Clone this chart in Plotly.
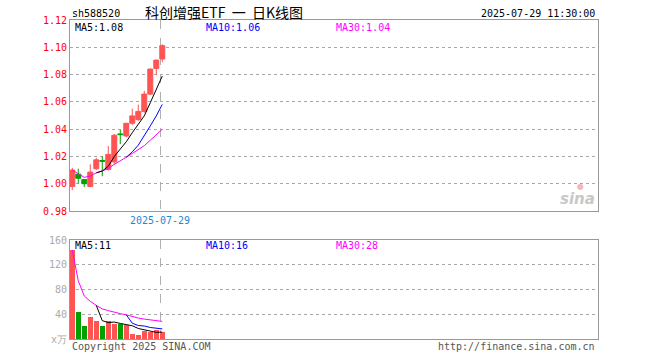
import plotly.graph_objects as go
from plotly.subplots import make_subplots

# ---- data ----
opens  = [0.998, 1.007, 1.003, 0.998, 1.011, 1.017, 1.0105, 1.016, 1.0365, 1.035, 1.0443, 1.047, 1.053, 1.0657, 1.0845, 1.0914]
closes = [1.010, 1.004, 1.000, 1.0085, 1.0175, 1.0165, 1.0215, 1.0355, 1.036, 1.0443, 1.0497, 1.053, 1.0657, 1.084, 1.0906, 1.1012]
highs  = [1.0117, 1.011, 1.003, 1.0142, 1.019, 1.020, 1.0276, 1.0365, 1.0395, 1.0445, 1.0550, 1.0580, 1.0681, 1.0845, 1.0910, 1.1022]
lows   = [0.9953, 1.0002, 0.9975, 0.9975, 1.010, 1.0055, 1.0095, 1.014, 1.029, 1.034, 1.043, 1.046, 1.052, 1.065, 1.0796, 1.0890]
volumes = [144, 44, 20.4, 34.9, 28.4, 20.4, 29, 24, 24, 22, 8.1, 6.9, 12.3, 11.3, 15, 10.7]  # 万

price_ticks = [0.98, 1.00, 1.02, 1.04, 1.06, 1.08, 1.10, 1.12]
vol_ticks = [0, 40, 80, 120, 160]
vol_tick_text = ["x万", "40", "80", "120", "160"]
date_label = "2025-07-29"
code = "sh588520"
title = "科创增强ETF\u00a0 一\u00a0 日K线图"
timestamp = "2025-07-29 11:30:00"

RED = "#ff5454"
GREEN = "#00a000"
MONO = "DejaVu Sans Mono"

n = len(closes)
xs = list(range(n))


def ma(vals, w, expanding=False):
    out = []
    for i in range(len(vals)):
        if i + 1 < w and not expanding:
            out.append(None)
        else:
            seg = vals[max(0, i - w + 1): i + 1]
            out.append(sum(seg) / len(seg))
    return out


ma5, ma10, ma30 = ma(closes, 5), ma(closes, 10), ma(closes, 30, expanding=True)
vma5, vma10, vma30 = ma(volumes, 5), ma(volumes, 10), ma(volumes, 30, expanding=True)
vol_colors = [RED if c >= o else GREEN for o, c in zip(opens, closes)]

fig = make_subplots(rows=2, cols=1, shared_xaxes=False, vertical_spacing=0.0)

fig.add_trace(go.Candlestick(
    x=xs, open=opens, high=highs, low=lows, close=closes,
    increasing=dict(line=dict(color=RED, width=1), fillcolor=RED),
    decreasing=dict(line=dict(color=GREEN, width=1), fillcolor=GREEN),
    whiskerwidth=0, hoverinfo="skip", showlegend=False), row=1, col=1)
for vals, col in [(ma30, "#ff00ff"), (ma10, "#0000ff"), (ma5, "#000000")]:
    fig.add_trace(go.Scatter(x=xs, y=vals, mode="lines", line=dict(color=col, width=1),
                             hoverinfo="skip", showlegend=False, connectgaps=False), row=1, col=1)

fig.add_trace(go.Bar(x=xs, y=volumes, marker=dict(color=vol_colors, line=dict(width=0)),
                     width=0.83, hoverinfo="skip", showlegend=False), row=2, col=1)
for vals, col in [(vma30, "#ff00ff"), (vma10, "#0000ff"), (vma5, "#000000")]:
    fig.add_trace(go.Scatter(x=xs, y=vals, mode="lines", line=dict(color=col, width=1),
                             hoverinfo="skip", showlegend=False), row=2, col=1)

L, R, T, B = 70, 598, 20, 339
W, H = 660, 360
PW, PH = R - L, B - T


def px(x):
    return (x - L) / PW


def py(y):
    return (B - y) / PH


sep = n - 1 - 0.38
xr = [-0.38, -0.38 + PW / 6.0]
axis_common = dict(showline=True, mirror=True, linecolor="#999999", linewidth=1,
                   zeroline=False, ticks="", fixedrange=True)

fig.update_xaxes(range=xr, tickvals=[sep], showgrid=True, griddash="dash",
                 gridcolor="#b0b0b0", gridwidth=1, rangeslider=dict(visible=False),
                 **axis_common)
fig.update_xaxes(ticktext=[date_label], showticklabels=True,
                 tickfont=dict(family=MONO, size=10, color="#1f87d6"), row=1, col=1)
fig.update_xaxes(showticklabels=False, row=2, col=1)

fig.update_yaxes(range=[0.98, 1.12], tickvals=price_ticks, tickformat=".2f",
                 showgrid=True, griddash="dot", gridcolor="#a8a8a8", gridwidth=1,
                 tickfont=dict(family=MONO, size=10, color="#ff0000"),
                 domain=[py(211), 1.0], row=1, col=1, **axis_common)
fig.update_yaxes(range=[0, 160], tickvals=vol_ticks, ticktext=vol_tick_text,
                 showgrid=True, griddash="dot", gridcolor="#a8a8a8", gridwidth=1,
                 tickfont=dict(family=MONO, size=10, color="#aaaaaa"),
                 domain=[0.0, py(240)], row=2, col=1, **axis_common)


def ann(text, x, y, color="#000", size=10, family=MONO, xanchor="left", **kw):
    fig.add_annotation(text=text, x=px(x), y=py(y), xref="paper", yref="paper",
                       showarrow=False, xanchor=xanchor, yanchor="middle",
                       font=dict(family=family, size=size, color=color), **kw)


ann(code, 70, 13)
ann(title, 224, 12, size=14, family="Noto Sans CJK SC", xanchor="center")
ann(timestamp, 597, 13, xanchor="right")

ann(f"MA5:{ma5[-1]:.2f}", 73, 27)
ann(f"MA10:{ma10[-1]:.2f}", 204, 27, color="#0000ff")
ann(f"MA30:{ma30[-1]:.2f}", 334, 27, color="#ff00ff")

ann(f"MA5:{vma5[-1]:.0f}", 73, 246)
ann(f"MA10:{vma10[-1]:.0f}", 204, 246, color="#0000ff")
ann(f"MA30:{vma30[-1]:.0f}", 334, 246, color="#ff00ff")

ann("Copyright 2025 SINA.COM", 70, 346, color="#555555")
ann("http://finance.sina.com.cn", 597, 346, color="#555555", xanchor="right")

ann("<i><b>sina</b></i>", 597, 199, color="#c8c8c8", size=15, family="DejaVu Sans", xanchor="right")
ann("●", 580, 186, color="#f4b8b8", size=8, family="DejaVu Sans", xanchor="center")

fig.update_layout(width=W, height=H, margin=dict(l=L, r=W - R, t=T, b=H - B),
                  paper_bgcolor="white", plot_bgcolor="white", boxgap=0.17, boxgroupgap=0,
                  bargap=0, showlegend=False, hovermode=False)

fig.write_html("out.html", config={"displayModeBar": False, "staticPlot": True},
               post_script="document.body.style.margin='0';document.body.style.padding='0';")
